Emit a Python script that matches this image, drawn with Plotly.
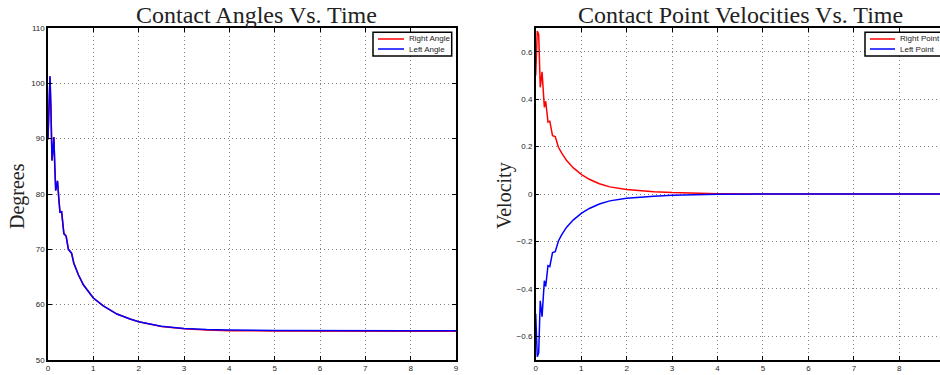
import plotly.graph_objects as go

# ---- data ----
t_angle = [0.00, 0.02, 0.044, 0.066, 0.088, 0.11, 0.13, 0.15, 0.17, 0.19, 0.21, 0.24,
           0.265, 0.30, 0.35, 0.40, 0.45, 0.52, 0.57, 0.67, 0.78, 0.90, 1.00, 1.22,
           1.52, 1.81, 2.00, 2.50, 3.00, 3.50, 4.00, 5.00, 6.00, 7.00, 8.00, 9.00]
right_angle = [89.8, 96.8, 101.2, 94.8, 86.1, 88.1, 90.2, 85.0, 80.7, 81.6, 82.3, 79.0,
               76.7, 76.8, 72.9, 72.4, 70.0, 69.3, 67.5, 65.4, 63.6, 62.3, 61.2, 59.8,
               58.3, 57.4, 56.9, 56.05, 55.65, 55.4, 55.3, 55.25, 55.2, 55.2, 55.2, 55.2]
left_angle = [90.0, 97.0, 101.3, 95.0, 86.0, 88.0, 90.3, 85.0, 80.6, 81.5, 82.4, 79.0,
              76.6, 76.9, 72.8, 72.4, 70.0, 69.3, 67.5, 65.4, 63.6, 62.3, 61.2, 59.8,
              58.3, 57.4, 56.9, 56.1, 55.7, 55.5, 55.4, 55.35, 55.3, 55.3, 55.3, 55.3]

t_vel = [0.00, 0.035, 0.066, 0.10, 0.14, 0.19, 0.22, 0.27, 0.31, 0.37, 0.43, 0.50,
         0.57, 0.68, 0.76, 0.83, 1.01, 1.18, 1.40, 1.63, 2.00, 2.30, 2.60, 3.00,
         3.50, 4.00, 5.00, 6.00, 7.00, 8.00, 9.00]
right_point = [0.50, 0.687, 0.673, 0.45, 0.515, 0.366, 0.391, 0.304, 0.307, 0.246, 0.242, 0.197,
               0.173, 0.141, 0.124, 0.110, 0.082, 0.062, 0.043, 0.030, 0.019, 0.014, 0.010, 0.006,
               0.003, 0.0015, 0.0005, 0.0002, 0.0001, 0.0, 0.0]
left_point = [-0.505, -0.686, -0.670, -0.45, -0.517, -0.366, -0.390, -0.302, -0.306, -0.247, -0.243, -0.198,
              -0.172, -0.140, -0.123, -0.109, -0.081, -0.061, -0.042, -0.029, -0.018, -0.013, -0.009, -0.005,
              -0.003, -0.0015, -0.0005, -0.0002, -0.0001, 0.0, 0.0]

angle_ticks = [50, 60, 70, 80, 90, 100, 110]
vel_ticks = [-0.6, -0.4, -0.2, 0, 0.2, 0.4, 0.6]
time_ticks = [0, 1, 2, 3, 4, 5, 6, 7, 8, 9]

W, H = 940, 375


def fx(px):
    return px / W


def fy(py):
    return 1 - py / H


RED, BLUE = "#ff0000", "#0000ff"
SANS = "Liberation Sans, Arial, sans-serif"
TICKFONT = dict(family=SANS, size=8, color="#262626")
SERIF = "Liberation Serif, Times New Roman, serif"

fig = go.Figure()
fig.add_trace(go.Scatter(x=t_angle, y=right_angle, mode="lines", name="Right Angle",
                         line=dict(color=RED, width=1.5), xaxis="x", yaxis="y"))
fig.add_trace(go.Scatter(x=t_angle, y=left_angle, mode="lines", name="Left Angle",
                         line=dict(color=BLUE, width=1.5), xaxis="x", yaxis="y"))
fig.add_trace(go.Scatter(x=t_vel, y=right_point, mode="lines", name="Right Point",
                         line=dict(color=RED, width=1.5), xaxis="x2", yaxis="y2"))
fig.add_trace(go.Scatter(x=t_vel, y=left_point, mode="lines", name="Left Point",
                         line=dict(color=BLUE, width=1.5), xaxis="x2", yaxis="y2"))

ybot, ytop = fy(360), fy(28)
axis_common = dict(showline=True, linecolor="black", linewidth=1.5, ticks="inside",
                   ticklen=4, tickcolor="black", tickwidth=1, showgrid=True,
                   gridcolor="#808080", gridwidth=1, griddash="1px,3px", zeroline=False,
                   tickfont=TICKFONT)

# legend boxes drawn in the MATLAB style (compact box, short line samples)
legends = [
    dict(box=(373, 32.3, 451.7, 56), line_x=(378, 404), text_x=406.5,
         entries=[("Right Angle", RED, 39), ("Left Angle", BLUE, 49)]),
    dict(box=(865, 32.3, 944, 56), line_x=(870, 895), text_x=897.5,
         entries=[("Right Point", RED, 39), ("Left Point", BLUE, 49)]),
]
shapes, annotations = [], []
for lg in legends:
    x0, y0, x1, y1 = lg["box"]
    shapes.append(dict(type="rect", xref="paper", yref="paper", x0=fx(x0), x1=fx(x1),
                       y0=fy(y1), y1=fy(y0), line=dict(color="black", width=1.5),
                       fillcolor="white", layer="above"))
    for name, col, yy in lg["entries"]:
        shapes.append(dict(type="line", xref="paper", yref="paper", x0=fx(lg["line_x"][0]),
                           x1=fx(lg["line_x"][1]), y0=fy(yy), y1=fy(yy),
                           line=dict(color=col, width=1.5), layer="above"))
        annotations.append(dict(text=name, x=fx(lg["text_x"]), y=fy(yy), xref="paper",
                                yref="paper", xanchor="left", yanchor="middle", showarrow=False,
                                font=dict(family=SANS, size=8, color="#222")))

annotations += [
    dict(text="Contact Angles Vs. Time", x=fx(256), y=fy(15), xref="paper", yref="paper",
         xanchor="center", yanchor="middle", showarrow=False,
         font=dict(family=SERIF, size=24, color="#222")),
    dict(text="Contact Point Velocities Vs. Time", x=fx(740), y=fy(15), xref="paper",
         yref="paper", xanchor="center", yanchor="middle", showarrow=False,
         font=dict(family=SERIF, size=24, color="#222")),
    dict(text="Degrees", x=fx(18), y=fy(196), xref="paper", yref="paper",
         xanchor="center", yanchor="middle", textangle=-90, showarrow=False,
         font=dict(family=SERIF, size=20, color="#222")),
    dict(text="Velocity", x=fx(505), y=fy(196), xref="paper", yref="paper",
         xanchor="center", yanchor="middle", textangle=-90, showarrow=False,
         font=dict(family=SERIF, size=20, color="#222")),
]

fig.update_layout(
    width=W, height=H,
    margin=dict(l=0, r=0, t=0, b=0, autoexpand=False),
    paper_bgcolor="white", plot_bgcolor="white",
    showlegend=False,
    xaxis=dict(axis_common, domain=[fx(48), fx(456)], range=[0, 9], tickvals=time_ticks,
               mirror="ticks", anchor="y"),
    yaxis=dict(axis_common, domain=[ybot, ytop], range=[50, 110], tickvals=angle_ticks,
               mirror="ticks", anchor="x"),
    xaxis2=dict(axis_common, domain=[fx(535.7), 1.0], range=[0, (940 - 535.7) / 45.45],
                tickvals=time_ticks, mirror="ticks", anchor="y2"),
    yaxis2=dict(axis_common, domain=[ybot, ytop], range=[-0.7, 0.7], tickvals=vel_ticks,
                mirror=False, anchor="x2"),
    shapes=shapes,
    annotations=annotations,
)

# remove the default 8px page margin so the figure fills the window exactly
fig.write_html("out.html", config={"displayModeBar": False},
               post_script="document.body.style.margin='0';")
